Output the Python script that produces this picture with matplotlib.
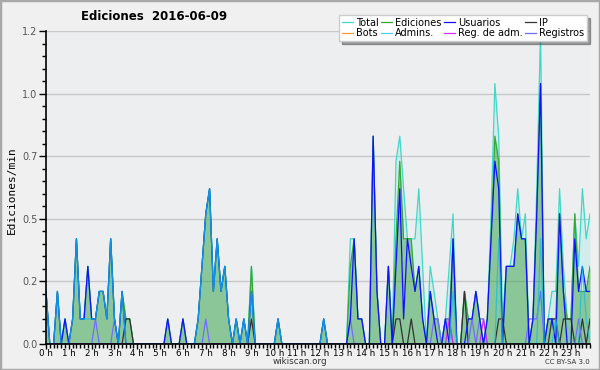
import matplotlib.pyplot as plt
import numpy as np
from matplotlib.ticker import MultipleLocator
from matplotlib.patches import Rectangle

# ediciones por minuto, una muestra cada 10 min (144 por dia)
total = [.21, 0, 0, .21, 0, .1, 0, .1, .42, .1, .1, .31,
         .1, .1, .21, .21, .1, .42, .1, 0, .21, .1, .1, 0,
         0, 0, 0, 0, 0, 0, 0, 0, .1, 0, 0, 0,
         .1, 0, 0, 0, .1, .31, .52, .62, .21, .42, .21, .31,
         .1, 0, .1, 0, .1, 0, .31, 0, 0, 0, 0, 0,
         0, .1, 0, 0, 0, 0, 0, 0, 0, 0, 0, 0,
         0, .1, 0, 0, 0, 0, 0, 0, .42, .42, .1, .1,
         0, 0, .83, .21, 0, 0, .31, 0, .73, .83, .62, .42,
         .42, .42, .62, .31, 0, .31, .21, .1, 0, .1, .31, .52,
         0, 0, .21, .1, .1, .21, .1, 0, .1, .52, 1.04, .83,
         .1, .31, .31, .42, .62, .42, .52, 0, .1, .62, 1.25, 0,
         .1, .21, .21, .62, .31, .1, .1, .52, .31, .62, .42, .52]

ediciones = [.21, 0, 0, .21, 0, .1, 0, .1, .42, .1, .1, .31,
             .1, .1, .21, .21, .1, .42, .1, 0, .21, .1, .1, 0,
             0, 0, 0, 0, 0, 0, 0, 0, .1, 0, 0, 0,
             .1, 0, 0, 0, .1, .31, .52, .62, .21, .42, .21, .31,
             .1, 0, .1, 0, .1, 0, .31, 0, 0, 0, 0, 0,
             0, .1, 0, 0, 0, 0, 0, 0, 0, 0, 0, 0,
             0, .1, 0, 0, 0, 0, 0, 0, .31, .42, .1, .1,
             0, 0, .83, .21, 0, 0, .31, 0, .42, .73, .42, .42,
             .42, .21, .31, .1, 0, .21, .1, .1, 0, .1, .1, .42,
             0, 0, .21, .1, .1, .21, .1, 0, .1, .42, .83, .73,
             0, .31, .31, .31, .52, .42, .42, 0, .1, .52, 1.04, 0,
             .1, .1, .1, .52, .21, .1, .1, .52, .21, .21, .21, .31]

usuarios = [.21, 0, 0, .21, 0, .1, 0, .1, .42, .1, .1, .31,
            .1, .1, .21, .21, .1, .42, .1, 0, .21, 0, 0, 0,
            0, 0, 0, 0, 0, 0, 0, 0, .1, 0, 0, 0,
            .1, 0, 0, 0, .1, .31, .52, .62, .21, .42, .21, .31,
            .1, 0, .1, 0, .1, 0, .21, 0, 0, 0, 0, 0,
            0, .1, 0, 0, 0, 0, 0, 0, 0, 0, 0, 0,
            0, .1, 0, 0, 0, 0, 0, 0, .1, .42, .1, .1,
            0, 0, .83, .21, 0, 0, .31, 0, .31, .62, .1, .42,
            .31, .21, .31, .1, 0, .21, .1, 0, 0, .1, 0, .42,
            0, 0, 0, .1, .1, .21, .1, 0, .1, .42, .73, .62,
            0, .31, .31, .31, .52, .42, .42, 0, .1, .52, 1.04, 0,
            .1, .1, 0, .52, .21, 0, 0, .42, .21, .31, .21, .21]

ip = [0, 0, 0, 0, 0, 0, 0, 0, 0, 0, 0, 0,
      0, 0, 0, 0, 0, 0, 0, 0, 0, .1, .1, 0,
      0, 0, 0, 0, 0, 0, 0, 0, 0, 0, 0, 0,
      0, 0, 0, 0, 0, 0, 0, 0, 0, 0, 0, 0,
      0, 0, 0, 0, 0, 0, .1, 0, 0, 0, 0, 0,
      0, 0, 0, 0, 0, 0, 0, 0, 0, 0, 0, 0,
      0, 0, 0, 0, 0, 0, 0, 0, 0, 0, 0, 0,
      0, 0, 0, 0, 0, 0, 0, 0, .1, .1, 0, 0,
      .1, 0, 0, 0, 0, 0, 0, 0, 0, 0, 0, 0,
      0, 0, .21, 0, 0, 0, 0, 0, 0, 0, 0, .1,
      .1, 0, 0, 0, 0, 0, 0, 0, 0, 0, 0, 0,
      0, .1, .1, 0, .1, .1, .1, 0, 0, .1, 0, .1]

bots = [0] * 144

admins = [.21, 0, 0, .21, 0, 0, 0, .1, .42, .1, .1, .1,
          .1, .1, .21, .21, .1, .42, .1, 0, .21, 0, 0, 0,
          0, 0, 0, 0, 0, 0, 0, 0, 0, 0, 0, 0,
          0, 0, 0, 0, .1, .31, .52, .62, .21, .42, .21, .31,
          .1, 0, .1, 0, .1, 0, .21, 0, 0, 0, 0, 0,
          0, .1, 0, 0, 0, 0, 0, 0, 0, 0, 0, 0,
          0, .1, 0, 0, 0, 0, 0, 0, 0, 0, 0, 0,
          0, 0, 0, 0, 0, 0, 0, 0, 0, 0, 0, 0,
          0, 0, 0, 0, 0, 0, 0, 0, 0, 0, 0, .21,
          0, 0, 0, 0, 0, 0, 0, 0, 0, 0, 0, .42,
          0, 0, 0, 0, 0, 0, 0, 0, 0, 0, .42, 0,
          0, 0, .1, 0, 0, 0, 0, 0, 0, .31, .1, 0]

reg_adm = [0] * 96 + [0, 0, 0, 0, 0, 0, 0, 0, 0, 0, .1, 0,
                      0, 0, 0, 0, 0, 0, 0, .1, 0, 0, 0, 0] + [0] * 24

registros = [0, 0, 0, 0, 0, 0, 0, 0, 0, 0, 0, 0,
             0, .1, 0, 0, 0, 0, .1, 0, 0, 0, 0, 0,
             0, 0, 0, 0, 0, 0, 0, 0, 0, 0, 0, 0,
             0, 0, 0, 0, 0, 0, .1, 0, 0, 0, 0, 0,
             0, 0, 0, 0, 0, 0, 0, 0, 0, 0, 0, 0,
             0, 0, 0, 0, 0, 0, 0, 0, 0, 0, 0, 0,
             0, 0, 0, 0, 0, 0, 0, 0, .1, 0, 0, 0,
             0, 0, 0, 0, 0, 0, 0, 0, 0, 0, 0, 0,
             0, 0, 0, 0, 0, 0, .1, .1, 0, .1, .1, 0,
             0, 0, 0, 0, .1, 0, .1, .1, 0, 0, 0, 0,
             0, 0, 0, 0, 0, 0, 0, .1, .1, .1, .21, 0,
             0, 0, 0, 0, 0, 0, 0, 0, .1, 0, 0, 0]

hour_labels = [f"{h} h" for h in range(24)]
ytick_vals = [0, 0.25, 0.5, 0.75, 1.0, 1.25]
ytick_labels = ["0.0", "0.2", "0.5", "0.7", "1.0", "1.2"]

t = np.arange(len(total)) / 6

fig = plt.figure(figsize=(6, 3.7), dpi=100)
fig.patch.set_facecolor("#f0f0f0")
fig.patches.append(Rectangle((0, 0), 1, 1, transform=fig.transFigure, fill=False,
                             edgecolor="#a8a8a8", lw=2.5))
ax = fig.add_axes([46 / 600, 1 - 344 / 370, 544 / 600, 313 / 370])
ax.set_facecolor("#eceef0")

ax.fill_between(t, total, color="#40e0d0", alpha=0.15, lw=0)
ax.fill_between(t, ediciones, color="#339933", alpha=0.45, lw=0)

lw = 0.9
l_tot, = ax.plot(t, total, color="#40d8c8", lw=lw, label="Total")
l_edi, = ax.plot(t, ediciones, color="#33aa33", lw=lw, label="Ediciones")
l_bot, = ax.plot(t, bots, color="#ff9933", lw=lw, label="Bots")
l_ip, = ax.plot(t, ip, color="#333333", lw=lw, label="IP")
l_reg, = ax.plot(t, registros, color="#6f6fff", lw=lw, label="Registros")
l_rad, = ax.plot(t, reg_adm, color="#cc33ee", lw=lw, label="Reg. de adm.")
l_usr, = ax.plot(t, usuarios, color="#1010ff", lw=lw, label="Usuarios")
l_adm, = ax.plot(t, admins, color="#10c0e0", lw=lw, alpha=0.75, label="Admins.")

ax.set_xlim(0, t[-1])
ax.set_ylim(0, 1.25)
ax.yaxis.grid(True, color="#c8c8c8", lw=1)
ax.set_axisbelow(True)
for s in ["top", "right"]:
    ax.spines[s].set_visible(False)
for s in ["left", "bottom"]:
    ax.spines[s].set_linewidth(1.2)

ax.set_yticks(ytick_vals)
ax.set_yticklabels(ytick_labels)
ax.yaxis.set_minor_locator(MultipleLocator(0.05))
ax.set_xticks(range(24))
ax.set_xticklabels(hour_labels)
ax.xaxis.set_minor_locator(MultipleLocator(1 / 6))
ax.tick_params(axis="y", which="major", length=5, width=1, labelsize=7, labelcolor="#555555", pad=1)
ax.tick_params(axis="y", which="minor", length=3, width=1)
ax.tick_params(axis="x", which="major", length=3.5, width=1, labelsize=6.3, pad=0)
ax.tick_params(axis="x", which="minor", length=3, width=1)

fig.text(12 / 600, 1 - 190 / 370, "Ediciones/min", rotation=90, ha="center", va="center",
         family="DejaVu Sans Mono", fontsize=8)
fig.text(154 / 600, 1 - 17 / 370, "Ediciones  2016-06-09", ha="center", va="center",
         fontsize=8.5, fontweight="bold")
fig.text(0.5, 1 - 362 / 370, "wikiscan.org", ha="center", va="center", fontsize=6.3, color="#333333")
fig.text(590 / 600, 1 - 362 / 370, "CC BY-SA 3.0", ha="right", va="center", fontsize=5, color="#333333")

handles = [l_tot, l_bot, l_edi, l_adm, l_usr, l_rad, l_ip, l_reg]
leg = fig.legend(handles, [h.get_label() for h in handles], ncol=4, loc="upper right",
                 bbox_to_anchor=(592 / 600, 1 - 10 / 370), fontsize=7, shadow=True,
                 fancybox=False, framealpha=1, edgecolor="#cccccc", handlelength=1.1,
                 handletextpad=0.3, columnspacing=0.3, labelspacing=0.05, borderpad=0.3)

fig.savefig("out.png", dpi=100, facecolor=fig.get_facecolor())
